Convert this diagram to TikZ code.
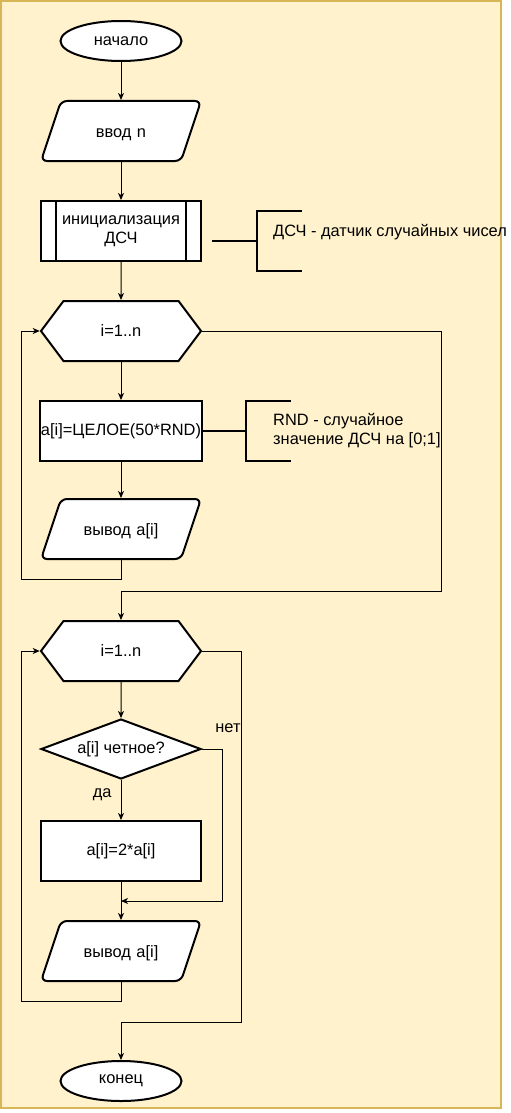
\documentclass[tikz,border=0pt]{standalone}
\usepackage{fontspec}
\setmainfont{Liberation Sans}
\usetikzlibrary{shapes.geometric,shapes.symbols,arrows.meta}
\definecolor{bgyellow}{HTML}{FFF2CC}
\definecolor{bgborder}{HTML}{D6B656}
\tikzset{
  base/.style={draw, fill=white, line width=2pt, inner sep=1pt, align=center,
    font=\fontsize{16.4}{19}\selectfont},
  term/.style={base, ellipse, minimum width=121pt, minimum height=40pt},
  io/.style={base, trapezium, trapezium left angle=71.57, trapezium right angle=108.43,
    rounded corners=6pt, text width=120pt, inner xsep=0pt, inner ysep=22pt,
    text height=14pt, text depth=2pt},
  proc/.style={base, rectangle, minimum width=160pt, minimum height=60pt},
  loopbox/.style={base, signal, signal to=east and west, signal pointer angle=106.26,
    minimum width=160pt, minimum height=60pt},
  cond/.style={base, diamond, aspect=2.667, inner sep=0pt, minimum width=160pt, minimum height=60pt},
  note/.style={align=left, inner sep=0pt, font=\fontsize{16.4}{19}\selectfont},
  lbl/.style={inner sep=1pt, font=\fontsize{16.4}{19}\selectfont},
  flow/.style={line width=1pt, -{Stealth[length=7pt,width=6pt,inset=2pt]}},
  brace/.style={line width=2pt}
}
\begin{document}
\begin{tikzpicture}[x=1pt,y=-1pt]
\useasboundingbox (0,0) rectangle (511,1113);
\draw[fill=bgyellow, draw=bgborder, line width=2.5pt] (1,1) rectangle (501,1108);
   % main column
   \node[term] at (121,41)   (start) {начало};
   \node[io] at (121,131)    (input) {ввод n};
   \node[proc] at (121,231)  (init) {инициализация\\ДСЧ};
   \draw[line width=2pt] ([xshift=16pt]init.north west) -- ([xshift=16pt]init.south west);
   \draw[line width=2pt] ([xshift=-16pt]init.north east) -- ([xshift=-16pt]init.south east);
   \node[loopbox] at (121,331) (loopa) {i=1..n};
   \node[proc] at (121,431)  (fill) {a[i]=ЦЕЛОЕ(50*RND)};
   \node[io] at (121,529)    (outa) {вывод a[i]};
   \node[loopbox] at (121,651) (loopb) {i=1..n};
   \node[cond] at (121,749)  (even) {a[i] четное?};
   \node[proc] at (121,851)  (twice) {a[i]=2*a[i]};
   \node[io] at (121,951)    (outb) {вывод a[i]};
   \node[term] at (121,1081) (stop) {конец};
   % comments
   \node[note, anchor=west] at (273,232) (dsc) {ДСЧ - датчик случайных чисел};
   \node[note, anchor=west] at (273,431) (rnd) {RND - случайное\\значение ДСЧ на [0;1]};
   \coordinate (dscA) at (212,241);
   \coordinate (dscB) at (257,241);
   \draw[brace] (dscA) -- (dscB);
   \draw[brace] (302,211) -- (257,211) -- (257,271) -- (302,271);
   \coordinate (rndB) at (246,431);
   \draw[brace] (fill.east) -- (rndB);
   \draw[brace] (291,401) -- (246,401) -- (246,461) -- (291,461);
   % flow
   \coordinate (backa) at (21,579);
   \coordinate (exita) at (441,591);
   \coordinate (backb) at (21,1001);
   \coordinate (exitb) at (241,1022);
   \coordinate (skip) at (222,901);
   \coordinate (join) at (121,901);
   \draw[flow] (start) -- (input);
   \draw[flow] (input) -- (init);
   \draw[flow] (init) -- (loopa);
   \draw[flow] (loopa) -- (fill);
   \draw[flow] (fill) -- (outa);
   \draw[flow] (outa.south) |- (backa) |- (loopa.west);
   \draw[flow] (loopa.east) -| (exita) -| (loopb.north);
   \draw[flow] (loopb) -- (even);
   \draw[flow] (even) -- (twice) node[pos=0.38, left=8pt, lbl] {да};
   \draw[flow] (even.east) -| (skip) node[pos=0.5, xshift=6pt, yshift=21pt, lbl] {нет} -- (join);
   \draw[flow] (twice) -- (outb);
   \draw[flow] (outb.south) |- (backb) |- (loopb.west);
   \draw[flow] (loopb.east) -| (exitb) -| (stop.north);
\end{tikzpicture}
\end{document}
